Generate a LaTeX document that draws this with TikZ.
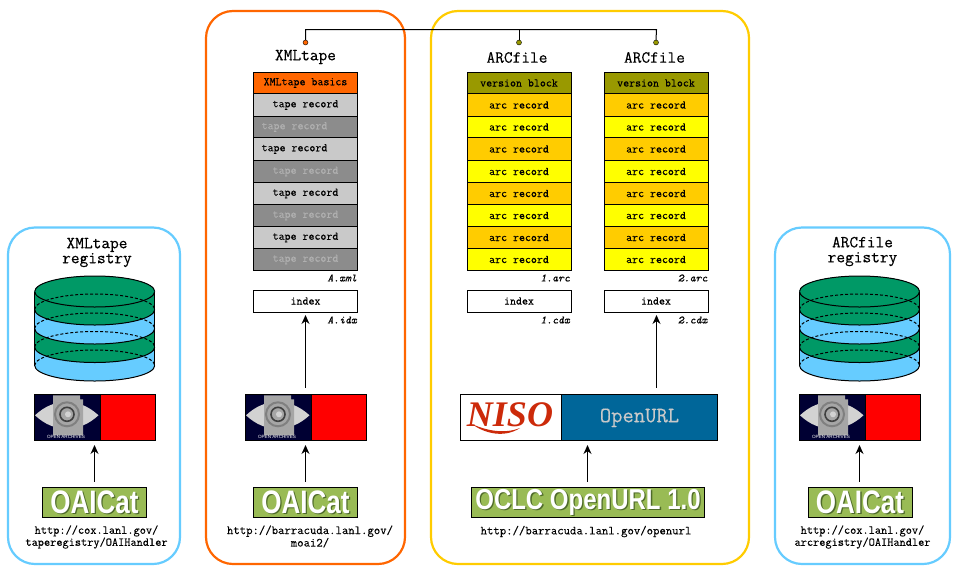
\documentclass[tikz,border=0pt]{standalone}
\usepackage{graphicx}
\usepackage{fontspec}
\setmainfont{Liberation Sans}
\newfontfamily\cour[FakeBold=0.3]{Latin Modern Mono}
\newfontfamily\nisofont{Liberation Serif}
\usetikzlibrary{arrows.meta}
\definecolor{regblue}{HTML}{66CCFF}
\definecolor{orangeb}{HTML}{FF6600}
\definecolor{yellowb}{HTML}{FFCC00}
\definecolor{cylgreen}{HTML}{009966}
\definecolor{olive}{HTML}{999900}
\definecolor{recgold}{HTML}{FFCC00}
\definecolor{recyel}{HTML}{FFFF00}
\definecolor{taplight}{HTML}{C9C9C9}
\definecolor{tapdark}{HTML}{8C8C8C}
\definecolor{tapdarktxt}{HTML}{B0B0B0}
\definecolor{catgreen}{HTML}{99BB55}
\definecolor{catshadow}{HTML}{4F6B2A}
\definecolor{navy}{HTML}{000033}
\definecolor{ourl}{HTML}{006699}
\definecolor{nisored}{HTML}{CC2A0A}
\definecolor{logogray}{HTML}{A6A6A6}
\definecolor{eyegray}{HTML}{D2D2D2}
\tikzset{
 x=1pt,y=-1pt,
 panel/.style={line width=2.2pt,rounded corners=27pt,fill=white},
 title/.style={font=\cour\fontsize{16.9}{15}\selectfont,text=black,inner sep=0pt,align=center},
 rec/.style={draw=black,line width=1pt,minimum width=104pt,inner sep=0pt,anchor=north,font=\cour\fontsize{11.6}{11}\selectfont},
 fname/.style={font=\cour\itshape\fontsize{11.2}{11}\selectfont,inner sep=0pt,anchor=east},
 url/.style={font=\cour\fontsize{12.4}{10.6}\selectfont,inner sep=0pt,align=center},
 urlb/.style={font=\cour\fontsize{12}{10.6}\selectfont,inner sep=0pt,align=center},
 conn/.style={line width=1pt,-{Stealth[length=9pt,width=8pt]}},
 wire/.style={line width=1pt},
 catbox/.style={draw=black,line width=1pt,fill=catgreen,inner sep=0pt},
 dotm/.style={circle,draw=black,line width=0.4pt,minimum size=5pt,inner sep=0pt},
 frontarc/.style={line width=1pt},
 backarc/.style={line width=1pt,dash pattern=on 3pt off 2pt},
}
\newcommand{\oailogo}[2]{% left x, name
 \begin{scope}[shift={(#1,394.3)}]
  \fill[navy] (0,0) rectangle (66.5,46);
  \fill[red] (66.5,0) rectangle (121,46);
  \fill[eyegray] (1,21) .. controls (20,3) and (45,3) .. (64.5,21) .. controls (45,39) and (20,39) .. cycle;
  \fill[logogray] (19,1) -- (46,1) -- (46,5) -- (49,5) -- (49,41) -- (19,41) -- cycle;
  \draw[gray,line width=2pt] (33,20) circle (12pt);
  \draw[darkgray,line width=1.6pt] (33,20) circle (7pt);
  \fill[eyegray] (34,20) circle (3pt);
  \node[font=\fontsize{4.6}{5}\selectfont,text=white,inner sep=0pt] at (32,43) {OPEN ARCHIVES};
  \draw[black,line width=1pt] (0,0) rectangle (121,46);
  \draw[black,line width=1pt] (66.5,0) -- (66.5,46);
 \end{scope}}
\newcommand{\eback}[1]{(0,#1) arc[start angle=180,end angle=0,x radius=60,y radius=-15.5]}
\newcommand{\efront}[1]{(0,#1) arc[start angle=180,end angle=0,x radius=60,y radius=15.5]}
\newcommand{\cylbody}[2]{\fill[#2] (0,291.5) arc[start angle=180,end angle=0,x radius=60,y radius=-15.5] -- (120,#1) arc[start angle=0,end angle=180,x radius=60,y radius=15.5] -- cycle;}
\newcommand{\cyl}[1]{% left x
 \begin{scope}[shift={(#1,0)}]
  \cylbody{365.5}{regblue}
  \cylbody{347}{cylgreen}
  \cylbody{328.5}{regblue}
  \cylbody{309.5}{cylgreen}
  \draw[frontarc] \eback{291.5};
  \foreach \c in {291.5,309.5,328.5,347,365.5}{\draw[frontarc] \efront{\c};}
  \foreach \c in {309.5,328.5,347,365.5}{\draw[backarc] \eback{\c};}
  \draw[frontarc] (0,291.5) -- (0,365.5) (120,291.5) -- (120,365.5);
 \end{scope}}
\newcommand{\catnode}[6]{% name,cx,w,size,text,yscale
 \node[catbox,minimum width=#3pt,minimum height=30pt] (#1) at (#2,502.3) {};
 \node[text=catshadow,font=\bfseries\fontsize{#4}{#4}\selectfont,inner sep=0pt] at ([xshift=1.3pt,yshift=-1.3pt]#1.center) {\scalebox{1}[#6]{#5}};
 \node[text=white,font=\bfseries\fontsize{#4}{#4}\selectfont,inner sep=0pt] at (#1.center) {\scalebox{1}[#6]{#5}};}
\begin{document}
\begin{tikzpicture}
\useasboundingbox (0,0) rectangle (960,570);
\fill[white] (0,0) rectangle (960,570);
% panels
\draw[panel,draw=regblue] (8,227.5) rectangle (180,564);
\draw[panel,draw=orangeb] (206,11) rectangle (405,564);
\draw[panel,draw=yellowb] (431,11) rectangle (749,564);
\draw[panel,draw=regblue] (775,227.5) rectangle (950,564);
% left registry
\node[title] (t1) at (97,252.5) {XMLtape\\registry};
\cyl{34.7}
\oailogo{34}{oaiA}
\catnode{catA}{94.5}{104}{26}{OAICat}{1.25}
\coordinate (oA) at (94.5,445);
\draw[conn] (catA.north |- 0,481.7) -- (oA);
\node[urlb] (u1) at (96.5,537) {http://cox.lanl.gov/\\taperegistry/OAIHandler};
% XMLtape column
\node[dotm,fill=orangeb] (d1) at (305.5,42.5) {};
\node[title] (t2) at (305.5,57) {XMLtape};
\node[rec,fill=orangeb,minimum height=21pt] (x0) at (305.5,72) {XMLtape basics};
\node[rec,fill=taplight,minimum height=23pt] (x1) at (305.5,93) {tape record};
\node[rec,fill=tapdark,minimum height=21pt,text=tapdarktxt] (x2) at (305.5,116) {\hspace*{-22pt}tape record};
\node[rec,fill=taplight,minimum height=23pt] (x3) at (305.5,137) {\hspace*{-22pt}tape record};
\node[rec,fill=tapdark,minimum height=22pt,text=tapdarktxt] (x4) at (305.5,160) {tape record};
\node[rec,fill=taplight,minimum height=22pt] (x5) at (305.5,182) {tape record};
\node[rec,fill=tapdark,minimum height=22pt,text=tapdarktxt] (x6) at (305.5,204) {tape record};
\node[rec,fill=taplight,minimum height=22pt] (x7) at (305.5,226) {tape record};
\node[rec,fill=tapdark,minimum height=22pt,text=tapdarktxt] (x8) at (305.5,248) {tape record};
\node[fname] (fa) at (357,278) {A.xml};
\node[rec,fill=white,minimum height=22pt] (ia) at (305.5,289.5) {index};
\node[fname] (fb) at (357,320) {A.idx};
\oailogo{245}{oaiB}
\catnode{catB}{305.5}{104}{26}{OAICat}{1.25}
\draw[conn] (305.5,481.7) -- (305.5,445);
\draw[conn] (305.5,387.5) -- (305.5,315);
\node[url] (u2) at (310,536.5) {http://barracuda.lanl.gov/\\moai2/};
% ARC columns
\node[dotm,fill=olive] (d2) at (519,42.5) {};
\node[dotm,fill=olive] (d3) at (656,42.5) {};
\node[title] (t3) at (517,57.5) {ARCfile};
\node[title] (t4) at (654.5,57.5) {ARCfile};
\draw[wire] (d1.north) -- (305.5,29.5) -- (656.5,29.5) -- (d3.north);
\draw[wire] (519,29.5) -- (d2.north);
\foreach \cx/\nm in {519/a,656/b}{
 \node[rec,fill=olive,minimum height=21pt] (\nm0) at (\cx,72) {version block};
 \node[rec,fill=recgold,minimum height=23pt] (\nm1) at (\cx,93) {arc record};
 \node[rec,fill=recyel,minimum height=21pt] (\nm2) at (\cx,116) {arc record};
 \node[rec,fill=recgold,minimum height=23pt] (\nm3) at (\cx,137) {arc record};
 \node[rec,fill=recyel,minimum height=22pt] (\nm4) at (\cx,160) {arc record};
 \node[rec,fill=recgold,minimum height=22pt] (\nm5) at (\cx,182) {arc record};
 \node[rec,fill=recyel,minimum height=22pt] (\nm6) at (\cx,204) {arc record};
 \node[rec,fill=recgold,minimum height=22pt] (\nm7) at (\cx,226) {arc record};
 \node[rec,fill=recyel,minimum height=22pt] (\nm8) at (\cx,248) {arc record};
 \node[rec,fill=white,minimum height=22pt] (\nm9) at (\cx,289.5) {index};
}
\node[fname] (f1) at (570,278) {1.arc};
\node[fname] (f2) at (570,320) {1.cdx};
\node[fname] (f3) at (707.5,278) {2.arc};
\node[fname] (f4) at (707.5,320) {2.cdx};
% OpenURL
\node[draw=black,line width=1pt,fill=white,minimum width=101pt,minimum height=46pt,inner sep=0pt,anchor=north west] (ni) at (460,394.3) {};
\node[draw=black,line width=1pt,fill=ourl,minimum width=156pt,minimum height=46pt,inner sep=0pt,anchor=north west,text=taplight,font=\cour\fontsize{22}{22}\selectfont] (ou) at (561,394.3) {OpenURL};
\node[text=nisored,font=\nisofont\bfseries\itshape\fontsize{36}{36}\selectfont,inner sep=0pt] (nt) at (510,415) {NISO};
\fill[nisored] (472,424) .. controls (485,434) and (505,438) .. (520,428) .. controls (505,434) and (487,431) .. cycle;
\node[catbox,minimum width=233pt,minimum height=30pt] (catC) at (588,502.3) {};
\node[text=catshadow,font=\bfseries\fontsize{24}{24}\selectfont,inner sep=0pt] at ([xshift=1.3pt,yshift=-1.3pt]catC.center) {\scalebox{1}[1.2]{OCLC OpenURL 1.0}};
\node[text=white,font=\bfseries\fontsize{24}{24}\selectfont,inner sep=0pt] at (catC.center) {\scalebox{1}[1.2]{OCLC OpenURL 1.0}};
\draw[conn] (587.5,481.7) -- (587.5,445);
\draw[conn] (656.5,387.5) -- (656.5,315);
\node[url] (u3) at (586,531.5) {http://barracuda.lanl.gov/openurl};
% right registry
\node[title] (t5) at (862.5,251.5) {ARCfile\\registry};
\cyl{799.5}
\oailogo{799}{oaiC}
\catnode{catD}{860}{104}{26}{OAICat}{1.25}
\draw[conn] (859.5,481.7) -- (859.5,445);
\node[urlb] (u4) at (862.5,537) {http://cox.lanl.gov/\\arcregistry/OAIHandler};
\end{tikzpicture}
\end{document}
